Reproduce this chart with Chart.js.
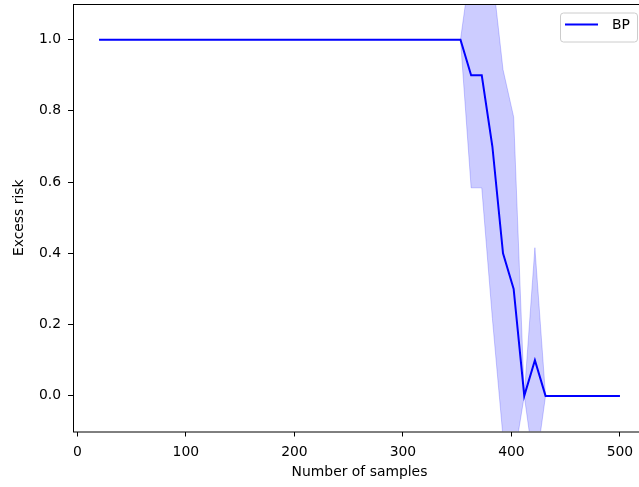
<!DOCTYPE html>
<html>
<head>
<meta charset="utf-8">
<script src="https://cdn.jsdelivr.net/npm/chart.js@4"></script>
<style>
    body { margin: 0; overflow: hidden; background: #fff; }
    #wrap { width: 660px; height: 487px; }
</style>
</head>
<body>
<div id="wrap"><canvas id="risk-chart" width="660" height="487"></canvas></div>
<script>
// sample sizes (50 runs from 20 to 500)
let sampleSizes = [20, 29.8, 39.59, 49.39, 59.18, 68.98, 78.78, 88.57, 98.37, 108.16,
    117.96, 127.76, 137.55, 147.35, 157.14, 166.94, 176.73, 186.53, 196.33, 206.12,
    215.92, 225.71, 235.51, 245.31, 255.1, 264.9, 274.69, 284.49, 294.29, 304.08,
    313.88, 323.67, 333.47, 343.27, 353.06, 362.86, 372.65, 382.45, 392.24, 402.04,
    411.84, 421.63, 431.43, 441.22, 451.02, 460.82, 470.61, 480.41, 490.2, 500];

let meanRisk = [1, 1, 1, 1, 1, 1, 1, 1, 1, 1,
    1, 1, 1, 1, 1, 1, 1, 1, 1, 1,
    1, 1, 1, 1, 1, 1, 1, 1, 1, 1,
    1, 1, 1, 1, 1, 0.9, 0.9, 0.7, 0.4, 0.3,
    0, 0.1, 0, 0, 0, 0, 0, 0, 0, 0];

let upperRisk = [1, 1, 1, 1, 1, 1, 1, 1, 1, 1,
    1, 1, 1, 1, 1, 1, 1, 1, 1, 1,
    1, 1, 1, 1, 1, 1, 1, 1, 1, 1,
    1, 1, 1, 1, 1, 1.216, 1.216, 1.183, 0.916, 0.783,
    0, 0.416, 0, 0, 0, 0, 0, 0, 0, 0];

let lowerRisk = [1, 1, 1, 1, 1, 1, 1, 1, 1, 1,
    1, 1, 1, 1, 1, 1, 1, 1, 1, 1,
    1, 1, 1, 1, 1, 1, 1, 1, 1, 1,
    1, 1, 1, 1, 1, 0.584, 0.584, 0.217, -0.116, -0.183,
    0, -0.216, 0, 0, 0, 0, 0, 0, 0, 0];

let xTicks = [0, 100, 200, 300, 400, 500];
let yTicks = [0, 0.2, 0.4, 0.6, 0.8, 1.0];

let fontName = "'DejaVu Sans', sans-serif";

function toPoints(values) {
    return sampleSizes.map((x, i) => ({ x: x, y: values[i] }));
}

// no extra room for half labels, the plot box is placed by hand
function noScalePadding(scale) {
    scale.paddingTop = 0;
    scale.paddingBottom = 0;
    scale.paddingLeft = 0;
    scale.paddingRight = 0;
}

// axes frame (all four spines) drawn over the data
let framePlugin = {
    id: 'frame',
    afterDatasetsDraw(chart) {
        let a = chart.chartArea;
        let ctx = chart.ctx;
        ctx.save();
        ctx.strokeStyle = "#000";
        ctx.lineWidth = 1;
        ctx.strokeRect(a.left + 0.5, a.top + 0.5, a.right - a.left, a.bottom - a.top);
        ctx.restore();
    }
};

// matplotlib style legend, upper right inside the axes
let legendPlugin = {
    id: 'mplLegend',
    afterDraw(chart) {
        let a = chart.chartArea;
        let ctx = chart.ctx;
        let ds = chart.data.datasets[0];
        let w = 77, h = 29;
        let x = a.right - 9 - w;
        let y = a.top + 8.5;
        ctx.save();
        ctx.beginPath();
        ctx.roundRect(x + 0.5, y + 0.5, w, h, 3);
        ctx.fillStyle = "rgba(255,255,255,0.8)";
        ctx.fill();
        ctx.strokeStyle = "#cccccc";
        ctx.lineWidth = 1;
        ctx.stroke();

        ctx.beginPath();
        ctx.moveTo(x + 5, y + 12);
        ctx.lineTo(x + 38, y + 12);
        ctx.strokeStyle = ds.borderColor;
        ctx.lineWidth = 2;
        ctx.stroke();

        ctx.fillStyle = "#000";
        ctx.font = "13.9px " + fontName;
        ctx.textBaseline = "middle";
        ctx.textAlign = "left";
        ctx.fillText(ds.label, x + 52, y + 13);
        ctx.restore();
    }
};

let riskChartEl = document.getElementById('risk-chart');

let riskConfig = {
    type: "line",
    data: {
        datasets: [
            {
                label: "BP",
                data: toPoints(meanRisk),
                borderColor: "#0000ff",
                borderWidth: 2,
                pointRadius: 0,
                tension: 0,
                fill: false,
            },
            {
                label: "upper",
                data: toPoints(upperRisk),
                borderColor: "rgba(0,0,255,0.2)",
                backgroundColor: "rgba(0,0,255,0.2)",
                borderWidth: 1,
                pointRadius: 0,
                tension: 0,
                fill: "+1",
            },
            {
                label: "lower",
                data: toPoints(lowerRisk),
                borderColor: "rgba(0,0,255,0.2)",
                borderWidth: 1,
                pointRadius: 0,
                tension: 0,
                fill: false,
            },
        ]
    },

    options: {
        responsive: false,
        animation: false,
        events: [],
        layout: {
            padding: { top: 4, right: 14, left: 0, bottom: 0 }
        },
        plugins: {
            legend: { display: false },
            tooltip: { enabled: false },
        },
        scales: {
            x: {
                type: "linear",
                min: -4,
                max: 524,
                afterBuildTicks: (scale) => {
                    scale.ticks = xTicks.map(v => ({ value: v }));
                },
                afterFit: (scale) => {
                    scale.height = 55.5;
                    noScalePadding(scale);
                },
                border: { display: false },
                grid: {
                    display: true,
                    drawOnChartArea: false,
                    drawTicks: true,
                    tickLength: 5,
                    tickColor: "#000",
                    tickWidth: 1,
                },
                ticks: {
                    color: "#000",
                    padding: 8,
                    maxRotation: 0,
                    font: { family: fontName, size: 13.9 },
                    callback: (v) => String(v),
                },
                title: {
                    display: true,
                    text: "Number of samples",
                    color: "#000",
                    font: { family: fontName, size: 13.9, lineHeight: 1.2 },
                    padding: { top: 0, bottom: 6 },
                },
            },
            y: {
                type: "linear",
                min: -0.1,
                max: 1.1,
                afterBuildTicks: (scale) => {
                    scale.ticks = yTicks.map(v => ({ value: v }));
                },
                afterFit: (scale) => {
                    scale.width = 73;
                    noScalePadding(scale);
                },
                border: { display: false },
                grid: {
                    display: true,
                    drawOnChartArea: false,
                    drawTicks: true,
                    tickLength: 5,
                    tickColor: "#000",
                    tickWidth: 1,
                },
                ticks: {
                    color: "#000",
                    padding: 7,
                    font: { family: fontName, size: 13.9 },
                    callback: (v) => v.toFixed(1),
                },
                title: {
                    display: true,
                    text: "Excess risk",
                    color: "#000",
                    font: { family: fontName, size: 13.9, lineHeight: 1.2 },
                    padding: { top: 11, bottom: 0 },
                },
            }
        }
    },
    plugins: [framePlugin, legendPlugin]
};

let riskChart = new Chart(riskChartEl, riskConfig);
</script>
</body>
</html>
